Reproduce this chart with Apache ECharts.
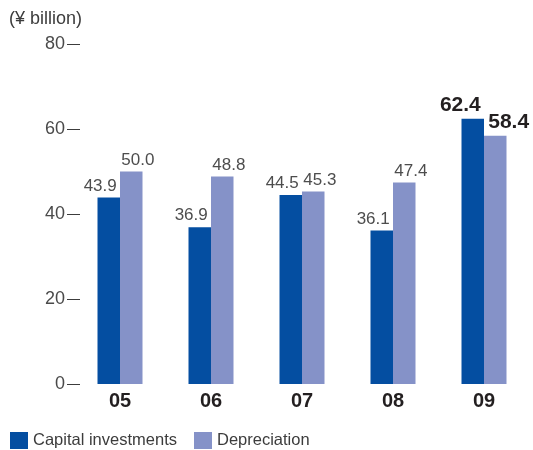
<!DOCTYPE html>
<html>
<head>
<meta charset="utf-8">
<script src="https://cdn.jsdelivr.net/npm/echarts@6/dist/echarts.min.js"></script>
<style>
  html, body { margin: 0; padding: 0; background: #fff; }
  #chart { width: 533px; height: 450px; }
</style>
</head>
<body>
<div id="chart"></div>
<script>
// Fiscal years and the two series (¥ billion)
const years = ['05', '06', '07', '08', '09'];
const capitalInvestments = [43.9, 36.9, 44.5, 36.1, 62.4];
const depreciation = [50.0, 48.8, 45.3, 47.4, 58.4];
const yTicks = [0, 20, 40, 60, 80];

const FONT = '"Liberation Sans", Arial, sans-serif';
const latest = years.length - 1;

// The latest year is emphasised with a bold, larger value label
function withLabels(values, dx) {
  return values.map((v, i) => i === latest
    ? { value: v, label: { fontSize: 21, fontWeight: 'bold', color: '#231f20', offset: [dx, 0] } }
    : v);
}

const valueLabel = (align, dx) => ({
  show: true, position: 'top', distance: 3,
  align: align, offset: [dx, 0],
  fontSize: 17, color: '#4d4d4d', fontFamily: FONT,
  formatter: p => p.value.toFixed(1)
});

const chart = echarts.init(document.getElementById('chart'));
chart.setOption({
  animation: false,
  textStyle: { fontFamily: FONT },
  title: {
    text: '(¥ billion)',
    left: 9, top: 10, padding: 0,
    textStyle: { fontSize: 18, fontWeight: 'normal', color: '#3c3c3c', fontFamily: FONT }
  },
  legend: {
    left: 10, top: 432, padding: 0,
    itemWidth: 18, itemHeight: 17, itemGap: 17,
    icon: 'rect',
    textStyle: { fontSize: 16.5, color: '#3c3c3c', fontFamily: FONT },
    data: ['Capital investments', 'Depreciation']
  },
  grid: { left: 74.5, right: 3.5, top: 44, bottom: 66 },
  xAxis: {
    type: 'category',
    data: years,
    axisLine: { show: false },
    axisTick: { show: false },
    axisLabel: { fontSize: 20, fontWeight: 'bold', color: '#231f20', margin: 7 }
  },
  yAxis: {
    type: 'value',
    min: yTicks[0], max: yTicks[yTicks.length - 1], interval: 20,
    offset: 7.5,
    splitLine: { show: false },
    axisLine: { show: false },
    axisTick: { show: true, inside: true, length: 13, lineStyle: { color: '#3c3c3c', width: 1 } },
    axisLabel: { fontSize: 18, color: '#4a4a4a', margin: 2, fontFamily: FONT }
  },
  series: [
    {
      name: 'Capital investments',
      type: 'bar',
      data: withLabels(capitalInvestments, 8),
      barWidth: 22.5,
      barGap: '0%',
      itemStyle: { color: '#044ea1' },
      label: valueLabel('right', 8)
    },
    {
      name: 'Depreciation',
      type: 'bar',
      data: withLabels(depreciation, -7),
      barWidth: 22.5,
      itemStyle: { color: '#8592c8' },
      label: valueLabel('left', -10)
    }
  ]
});
</script>
</body>
</html>
